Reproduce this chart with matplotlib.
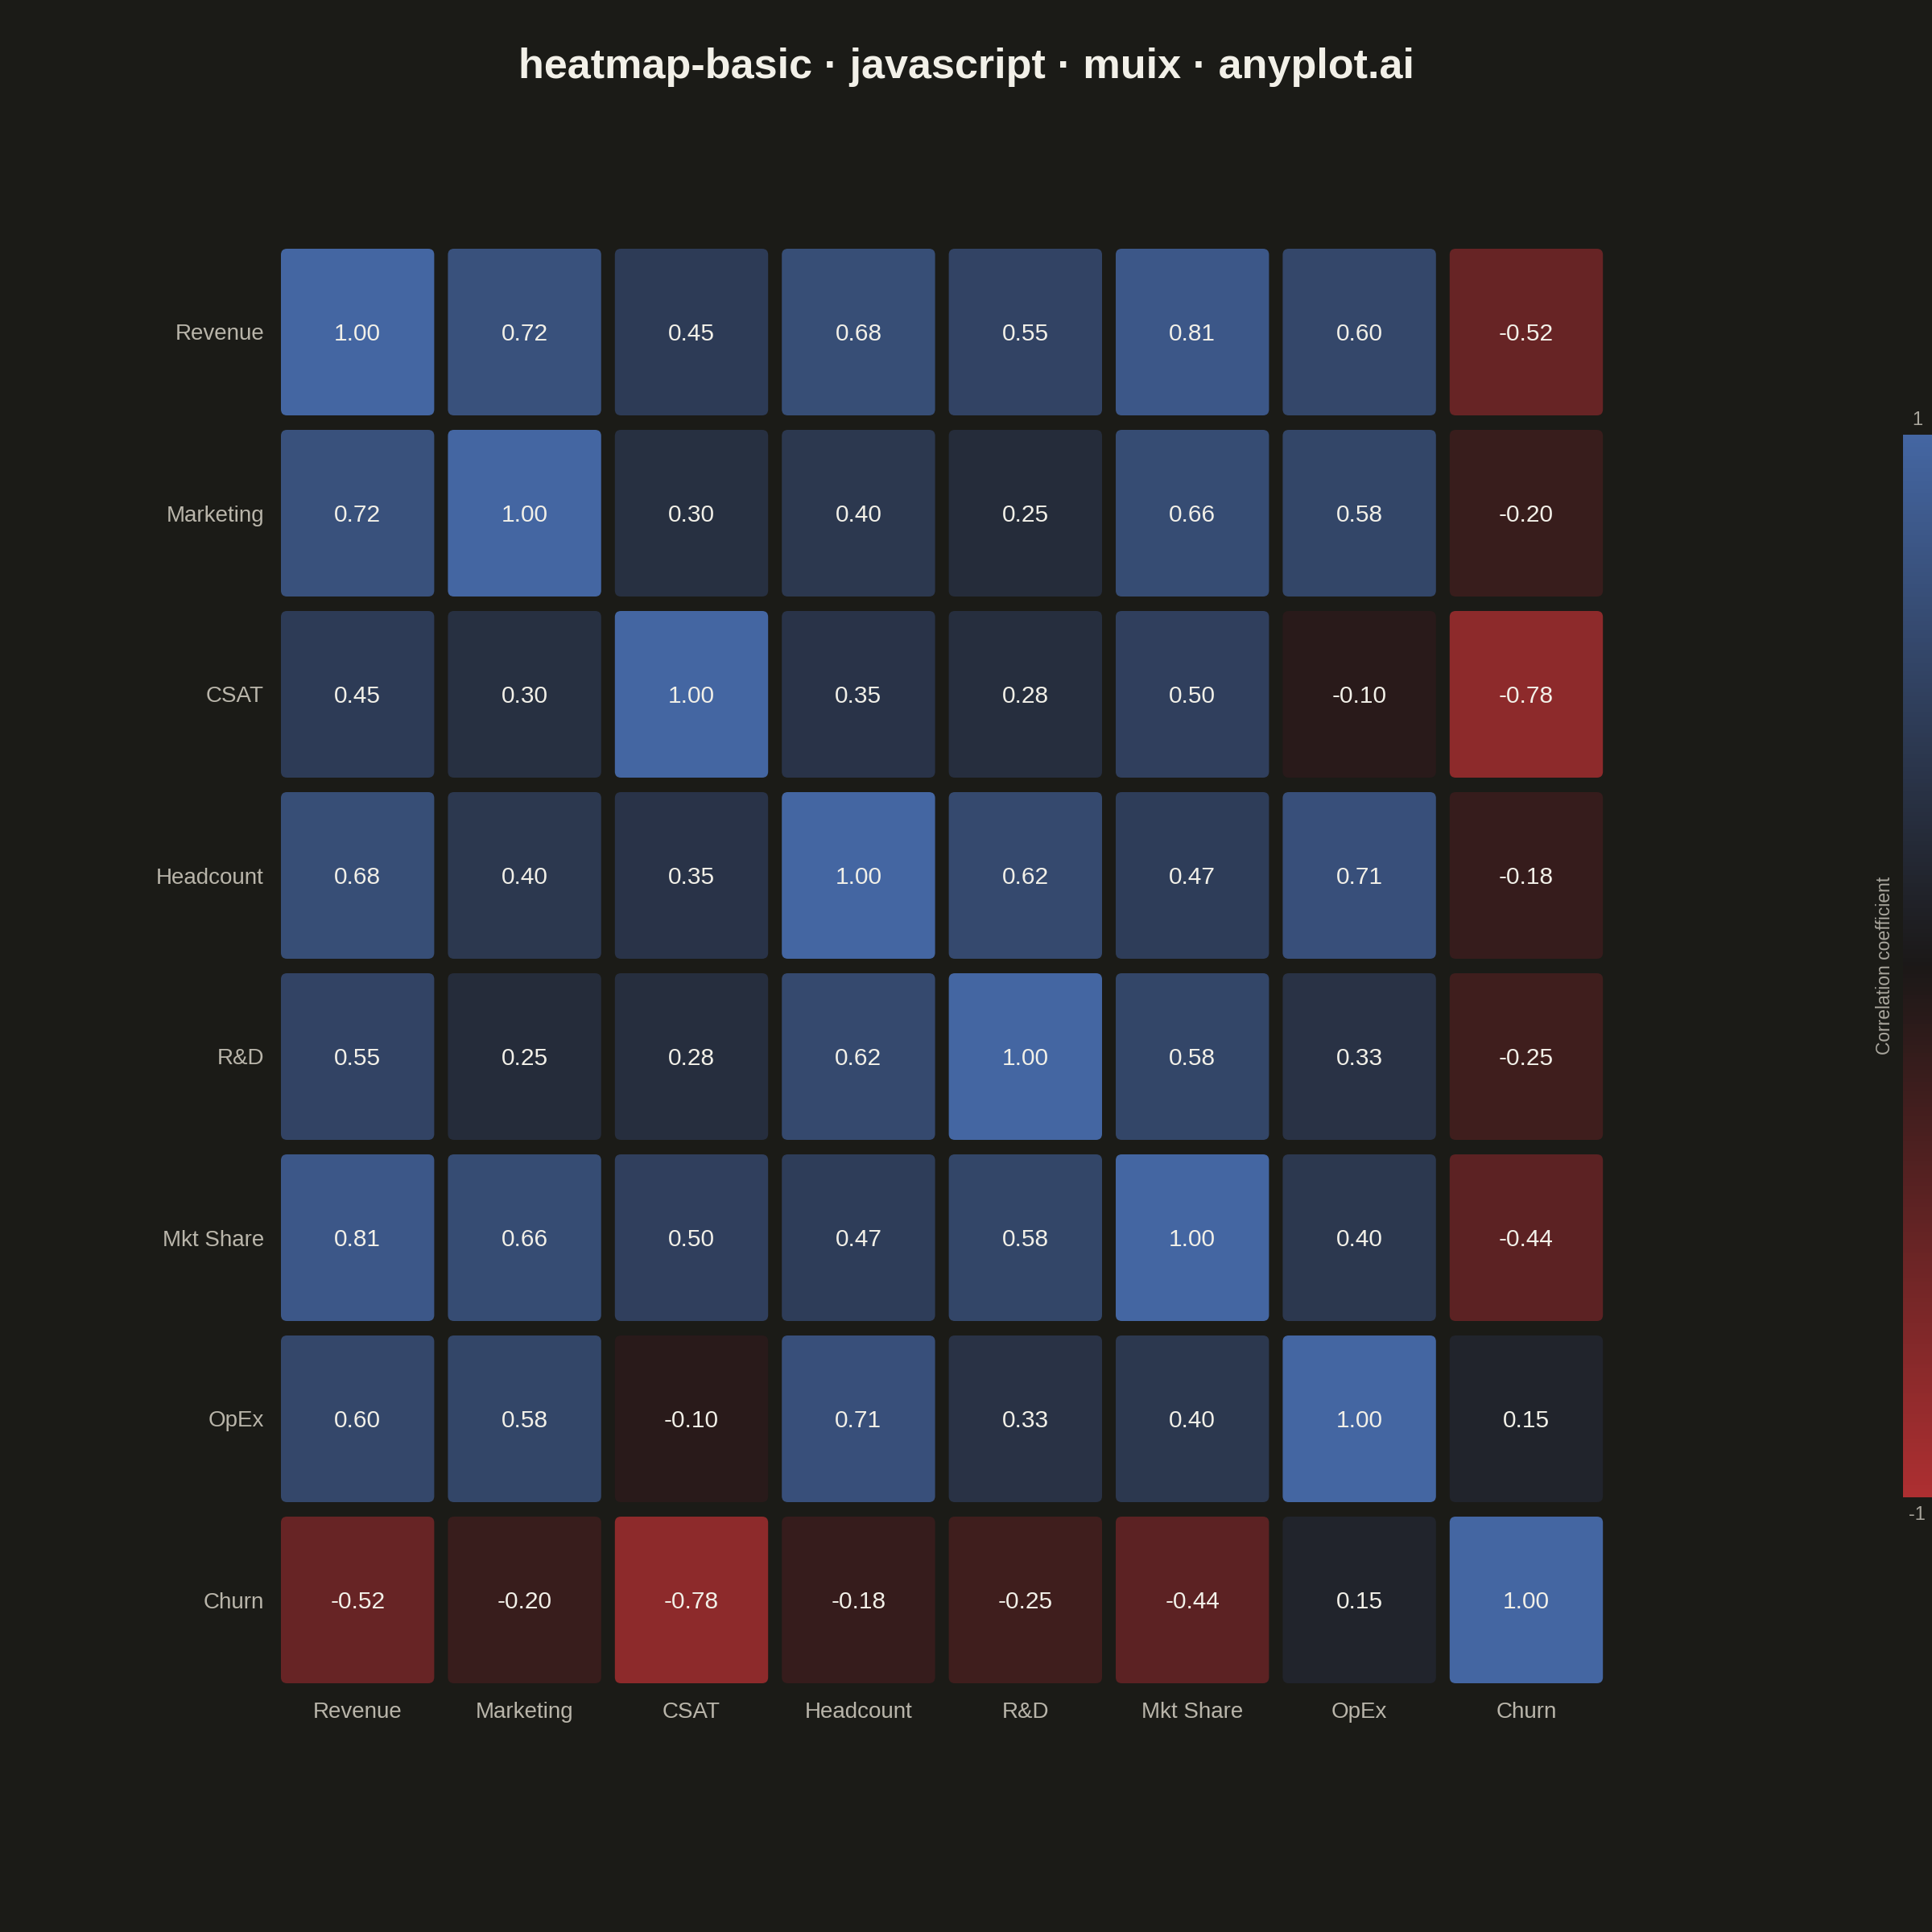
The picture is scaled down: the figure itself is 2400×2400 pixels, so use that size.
import numpy as np
import matplotlib
matplotlib.use("Agg")
import matplotlib.pyplot as plt
from matplotlib.colors import LinearSegmentedColormap, Normalize
from matplotlib.patches import FancyBboxPatch
import matplotlib.cm as cm

labels = ["Revenue", "Marketing", "CSAT", "Headcount", "R&D", "Mkt Share", "OpEx", "Churn"]
values = np.array([
    [1.00, 0.72, 0.45, 0.68, 0.55, 0.81, 0.60, -0.52],
    [0.72, 1.00, 0.30, 0.40, 0.25, 0.66, 0.58, -0.20],
    [0.45, 0.30, 1.00, 0.35, 0.28, 0.50, -0.10, -0.78],
    [0.68, 0.40, 0.35, 1.00, 0.62, 0.47, 0.71, -0.18],
    [0.55, 0.25, 0.28, 0.62, 1.00, 0.58, 0.33, -0.25],
    [0.81, 0.66, 0.50, 0.47, 0.58, 1.00, 0.40, -0.44],
    [0.60, 0.58, -0.10, 0.71, 0.33, 0.40, 1.00, 0.15],
    [-0.52, -0.20, -0.78, -0.18, -0.25, -0.44, 0.15, 1.00],
])
title = "heatmap-basic · javascript · muix · anyplot.ai"
cbar_label = "Correlation coefficient"

BG = "#1b1b17"
LABEL_C = "#b9b5aa"
VALUE_C = "#f2f0e8"
cmap = LinearSegmentedColormap.from_list("rdbu_dark", ["#ad2f31", "#1b1817", "#4466a2"])
norm = Normalize(-1, 1)

plt.rcParams["font.family"] = ["Liberation Sans", "DejaVu Sans"]

W = 2400
fig = plt.figure(figsize=(24, 24), dpi=100, facecolor=BG)

pw, ph = 207.4, 225.0
x0, y0 = 340.5, 300
x1, y1 = x0 + 8 * pw, y0 + 8 * ph
ax = fig.add_axes([x0 / W, 1 - y1 / W, (x1 - x0) / W, (y1 - y0) / W])
ax.set_facecolor(BG)
n = len(labels)
ax.set_xlim(0, n)
ax.set_ylim(n, 0)
for s in ax.spines.values():
    s.set_visible(False)
ax.set_xticks(np.arange(n) + 0.5)
ax.set_yticks(np.arange(n) + 0.5)
ax.set_xticklabels(labels, fontsize=20, color=LABEL_C)
ax.set_yticklabels(labels, fontsize=20, color=LABEL_C)
ax.tick_params(axis="y", length=0, pad=9)
ax.tick_params(axis="x", length=0, pad=10)

padx, pady = 8.5 / pw, 9.0 / ph
r = 7.5 / pw
for i in range(n):
    for j in range(n):
        v = values[i, j]
        p = FancyBboxPatch((j + padx, i + pady), 1 - 2 * padx, 1 - 2 * pady,
                           boxstyle=f"round,pad=0,rounding_size={r}",
                           mutation_aspect=pw / ph,
                           facecolor=cmap(norm(v)), edgecolor="none")
        ax.add_patch(p)
        ax.text(j + 0.5, i + 0.513, f"{v:.2f}", ha="center", va="center",
                fontsize=21.5, color=VALUE_C)

fig.text(0.5, 1 - 84 / W, title, ha="center", va="center", fontsize=37.5,
         fontweight="bold", color="#f2f0e8")

# colorbar
cax = fig.add_axes([2364 / W, 1 - 1860 / W, 44 / W, 1320 / W])
cb = fig.colorbar(cm.ScalarMappable(norm=norm, cmap=cmap), cax=cax)
cb.outline.set_visible(False)
cb.set_ticks([])
cax.text(0.4, 1.005, "1", transform=cax.transAxes, ha="center", va="bottom",
         fontsize=17, color="#a9a69d")
cax.text(0.4, -0.008, "-1", transform=cax.transAxes, ha="center", va="top",
         fontsize=17, color="#a9a69d")
fig.text(2342 / W, 1 - 1199 / W, cbar_label, rotation=90, ha="center", va="center",
         fontsize=16.5, color="#a9a69d")

fig.savefig("out.png", dpi=100, facecolor=BG)
